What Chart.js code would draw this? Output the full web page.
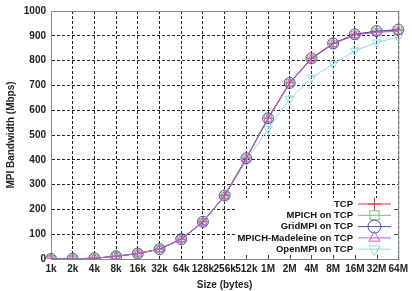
<!DOCTYPE html>
<html>
<head>
<meta charset="utf-8">
<script src="https://cdn.jsdelivr.net/npm/chart.js@4"></script>
<style>
  html, body { margin: 0; padding: 0; background: #fff; }
  #wrap { width: 412px; height: 291px; }
</style>
</head>
<body>
<div id="wrap"><canvas id="bwChart"></canvas></div>
<script>
// Sample Data
const sizes = ["1k", "2k", "4k", "8k", "16k", "32k", "64k", "128k", "256k", "512k", "1M", "2M", "4M", "8M", "16M", "32M", "64M"];
const yTicks = [0, 100, 200, 300, 400, 500, 600, 700, 800, 900, 1000];
const seriesNames = ["TCP", "MPICH on TCP", "GridMPI on TCP", "MPICH-Madeleine on TCP", "OpenMPI on TCP"];
const tcp       = [0, 1, 3, 11, 22, 40, 80, 150, 256, 407, 568, 711, 810, 869, 906, 918, 924];
const mpich     = [0, 1, 3, 11, 22, 40, 80, 149, 255, 405, 566, 709, 808, 868, 904, 916, 921];
const gridmpi   = [0, 1, 3, 11, 22, 40, 80, 150, 256, 406, 567, 710, 809, 869, 906, 919, 925];
const madeleine = [0, 1, 3, 11, 22, 40, 80, 149, 255, 404, 565, 708, 807, 867, 903, 914, 918];
const openmpi   = [0, 1, 3, 11, 22, 40, 80, 148, 252, 395, 525, 646, 731, 786, 840, 873, 895];

const colors = ["#e8313a", "#6cc46c", "#5050b8", "#c060c8", "#8ddde0"];
const shapes = ["cross", "rect", "circle", "triangle", "triangle"];
const rotations = [0, 0, 0, 0, 180];
const radii = [5, 5, 5.5, 5, 5];
const drawOrder = [3, 2, 1, 0, 4];
const values = [tcp, mpich, gridmpi, madeleine, openmpi];

const fontBold = { family: "'Liberation Sans', Arial, sans-serif", size: 10, weight: "bold" };

// Frame round the plot area, white key box, small border tics
const framePlugin = {
    id: "frame",
    beforeDatasetsDraw(chart) {
        const a = chart.chartArea, ctx = chart.ctx;
        const xs = chart.scales.x, ys = chart.scales.y;
        const boxLeft = 236, boxTop = 198;
        ctx.save();
        ctx.fillStyle = "#fff";
        ctx.fillRect(boxLeft, boxTop, a.right - boxLeft, a.bottom - boxTop);
        ctx.strokeStyle = "#444";
        ctx.lineWidth = 1;
        ctx.beginPath();
        sizes.forEach((s, i) => {
            const x = Math.round(xs.getPixelForTick(i)) + 0.5;
            if (x > boxLeft) {
                ctx.moveTo(x, a.bottom);
                ctx.lineTo(x, a.bottom - 4);
            }
        });
        yTicks.forEach(v => {
            const y = Math.round(ys.getPixelForValue(v)) + 0.5;
            if (y > boxTop) {
                ctx.moveTo(a.right, y);
                ctx.lineTo(a.right - 4, y);
            }
        });
        ctx.stroke();
        ctx.strokeStyle = "#888";
        ctx.strokeRect(a.left + 0.5, a.top + 0.5, a.right - a.left, a.bottom - a.top);
        ctx.restore();
    }
};

// Legend drawn inside the plot, text right aligned, sample on the right
const keyPlugin = {
    id: "key",
    afterDatasetsDraw(chart) {
        const ctx = chart.ctx;
        const textRight = 353, lineLeft = 358, lineRight = 391, top = 204, step = 11.3;
        ctx.save();
        ctx.font = "bold 9.5px 'Liberation Sans', Arial, sans-serif";
        ctx.textAlign = "right";
        ctx.textBaseline = "middle";
        chart.data.datasets.forEach((ds, i) => {
            const y = top + i * step;
            ctx.fillStyle = "#111";
            ctx.fillText(ds.label, textRight, y);
            ctx.strokeStyle = ds.borderColor;
            ctx.lineWidth = 1;
            ctx.beginPath();
            ctx.moveTo(lineLeft, y);
            ctx.lineTo(lineRight, y);
            ctx.stroke();
            ctx.fillStyle = "rgba(0,0,0,0)";
            Chart.helpers.drawPoint(ctx, {
                pointStyle: ds.pointStyle,
                rotation: ds.pointRotation,
                radius: 6.5,
                borderWidth: 1
            }, (lineLeft + lineRight) / 2, y);
        });
        ctx.restore();
    }
};

function buildDatasets() {
    return seriesNames.map((name, i) => ({
        label: name,
        data: values[i],
        borderColor: colors[i],
        backgroundColor: "rgba(0,0,0,0)",
        borderWidth: 1,
        pointStyle: shapes[i],
        pointRotation: rotations[i],
        pointRadius: radii[i],
        pointBorderWidth: 1,
        pointBorderColor: colors[i],
        pointBackgroundColor: "rgba(0,0,0,0)",
        tension: 0,
        order: drawOrder[i]
    }));
}

const gridOpts = { color: "#222", lineWidth: 1, drawTicks: false };
const borderOpts = { display: true, color: "#888", dash: [3, 2] };

function generateChart() {
    let ctx = document.getElementById("bwChart").getContext("2d");
    new Chart(ctx, {
        type: "line",
        data: { labels: sizes, datasets: buildDatasets() },
        options: {
            responsive: true,
            maintainAspectRatio: false,
            animation: false,
            layout: { padding: { top: 5, right: 11, left: 0, bottom: 0 } },
            plugins: { legend: { display: false }, tooltip: { enabled: false } },
            scales: {
                x: {
                    type: "category",
                    offset: false,
                    grid: gridOpts,
                    border: borderOpts,
                    ticks: { font: fontBold, color: "#222", padding: 4, maxRotation: 0, autoSkip: false },
                    title: { display: true, text: "Size (bytes)", font: fontBold, color: "#222", padding: { top: 3, bottom: 0 } },
                    afterFit(scale) { scale.height = 32; }
                },
                y: {
                    min: 0,
                    max: 1000,
                    afterBuildTicks(scale) { scale.ticks = yTicks.map(v => ({ value: v })); },
                    grid: gridOpts,
                    border: borderOpts,
                    ticks: { font: fontBold, color: "#222", padding: 5, callback: v => String(v) },
                    title: { display: true, text: "MPI Bandwidth (Mbps)", font: fontBold, color: "#222", padding: { top: 5, bottom: 0 } },
                    afterFit(scale) { scale.width = 51; }
                }
            }
        },
        plugins: [framePlugin, keyPlugin]
    });
}

generateChart();
</script>
</body>
</html>
